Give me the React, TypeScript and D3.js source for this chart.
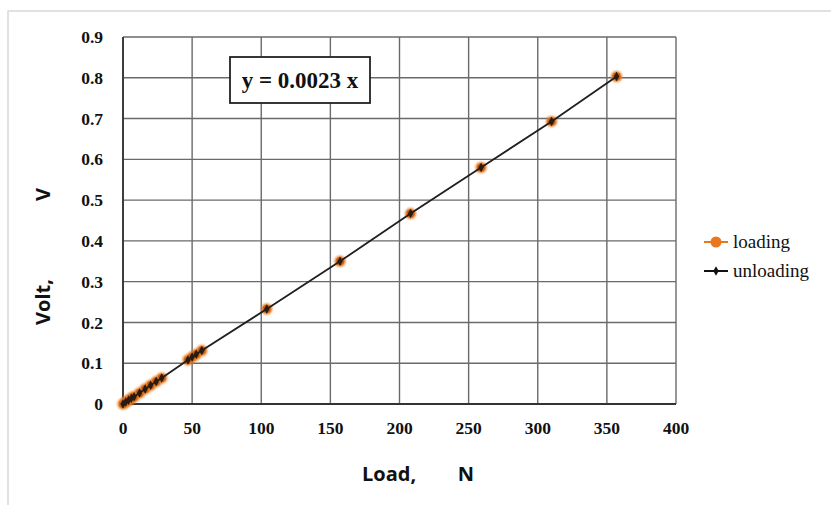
import React from "react";
import { scaleLinear, line, symbol, symbolDiamond, range } from "d3";

// load (N) and voltage (V)
const loadingX = [0, 2, 4, 6, 8, 12, 16, 20, 24, 28, 47, 50, 53, 57, 104, 157, 208, 259, 310, 357];
const loadingY = [0, 0.005, 0.009, 0.014, 0.018, 0.027, 0.037, 0.046, 0.055, 0.064, 0.108, 0.115, 0.122, 0.131, 0.233, 0.35, 0.467, 0.58, 0.693, 0.803];
const unloadingX = [0, 2, 4, 6, 8, 12, 16, 20, 24, 28, 47, 50, 53, 57, 104, 157, 208, 259, 310, 357];
const unloadingY = [0, 0.005, 0.009, 0.014, 0.018, 0.027, 0.037, 0.046, 0.055, 0.064, 0.108, 0.115, 0.122, 0.131, 0.233, 0.35, 0.467, 0.58, 0.693, 0.803];
const xTicks = [0, 50, 100, 150, 200, 250, 300, 350, 400];
const yTicks = [0, 0.1, 0.2, 0.3, 0.4, 0.5, 0.6, 0.7, 0.8, 0.9];
const seriesNames = ["loading", "unloading"];
const equation = "y = 0.0023 x";

const W = 831;
const H = 505;
const margin = { left: 123, right: 155, top: 37, bottom: 101 };
const orange = "#e8781e";
const serif = "'Liberation Serif', 'Times New Roman', serif";
const sans = "'Open Sans', 'DejaVu Sans', sans-serif";

export default function App() {
  const x = scaleLinear().domain([0, 400]).range([margin.left, W - margin.right]);
  const y = scaleLinear().domain([0, 0.9]).range([H - margin.bottom, margin.top]);

  const loading = range(loadingX.length).map(i => [loadingX[i], loadingY[i]]);
  const unloading = range(unloadingX.length).map(i => [unloadingX[i], unloadingY[i]]);
  const path = line<number[]>().x(d => x(d[0])).y(d => y(d[1]));
  const diamond = symbol().type(symbolDiamond).size(26)();

  return (
    <svg width={W} height={H} style={{ position: "absolute", left: 0, top: 0, background: "#fff" }}>
      <defs>
        <filter id="glow" x="-1" y="-1" width="3" height="3">
          <feGaussianBlur stdDeviation="1.2" />
        </filter>
      </defs>
      {/* outer chart frame */}
      <path d={`M8,${H} V11 H${W}`} fill="none" stroke="#d8d8d8" strokeWidth={1.5} />

      {/* grid */}
      {xTicks.map(t => (
        <line key={"gx" + t} x1={x(t)} x2={x(t)} y1={y(0.9)} y2={y(0)} stroke="#6a6a6a" strokeWidth={1.4} />
      ))}
      {yTicks.map(t => (
        <line key={"gy" + t} x1={x(0)} x2={x(400)} y1={y(t)} y2={y(t)} stroke="#6a6a6a" strokeWidth={1.4} />
      ))}
      <line x1={x(0)} x2={x(0)} y1={y(0.9)} y2={y(0)} stroke="#333" strokeWidth={1.8} />
      <line x1={x(0)} x2={x(400)} y1={y(0)} y2={y(0)} stroke="#333" strokeWidth={1.8} />

      {/* tick labels */}
      {yTicks.map(t => (
        <text key={"ty" + t} x={x(0) - 20} y={y(t)} dy="0.35em" textAnchor="end"
          fontFamily={serif} fontWeight="bold" fontSize={17.5} fill="#111">
          {t === 0 ? "0" : t.toFixed(1)}
        </text>
      ))}
      {xTicks.map(t => (
        <text key={"tx" + t} x={x(t)} y={y(0) + 30} textAnchor="middle"
          fontFamily={serif} fontWeight="bold" fontSize={17.5} fill="#111">
          {t}
        </text>
      ))}

      {/* loading markers */}
      {loading.map((d, i) => (
        <g key={"l" + i}>
          <circle cx={x(d[0])} cy={y(d[1])} r={5.5} fill={orange} filter="url(#glow)" />
          <circle cx={x(d[0])} cy={y(d[1])} r={4} fill="#c8641a" />
        </g>
      ))}

      {/* unloading line and markers */}
      <path d={path(unloading) || ""} fill="none" stroke="#1f1f1f" strokeWidth={1.8} />
      {unloading.map((d, i) => (
        <path key={"u" + i} d={diamond} transform={`translate(${x(d[0])},${y(d[1])})`} fill="#2a1a10" />
      ))}

      {/* equation box */}
      <rect x={230} y={57} width={140} height={46} fill="#fff" stroke="#222" strokeWidth={1.8} />
      <text x={300} y={80} dy="0.35em" textAnchor="middle" fontFamily={serif} fontWeight="bold" fontSize={23} fill="#111">
        {equation}
      </text>

      {/* axis titles */}
      <text x={418} y={481} textAnchor="middle" fontFamily={sans} fontWeight="bold" fontSize={20} fill="#111" xmlSpace="preserve">
        {"Load,        N"}
      </text>
      <text transform={`translate(50,${(y(0) + y(0.9)) / 2 + 36}) rotate(-90)`} textAnchor="middle" fontFamily={sans} fontWeight="bold" fontSize={20} fill="#111" xmlSpace="preserve">
        {"Volt,               V"}
      </text>

      {/* legend */}
      {seriesNames.map((name, i) => {
        const ly = 242 + i * 29;
        return (
          <g key={name}>
            <line x1={704} x2={728} y1={ly} y2={ly} stroke={i === 0 ? orange : "#111"} strokeWidth={2} />
            {i === 0 ? (
              <circle cx={716} cy={ly} r={5.5} fill={orange} />
            ) : (
              <path d={diamond} transform={`translate(716,${ly})`} fill="#111" />
            )}
            <text x={733} y={ly} dy="0.3em" fontFamily={serif} fontSize={19} fill="#111">{name}</text>
          </g>
        );
      })}
    </svg>
  );
}
